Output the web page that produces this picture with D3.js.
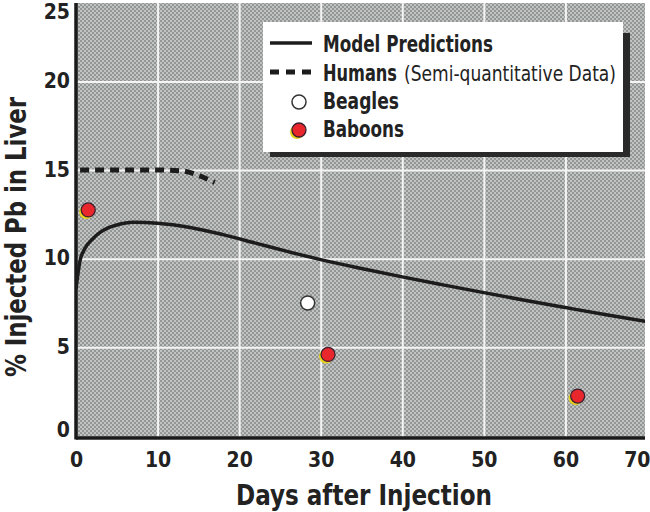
<!DOCTYPE html>
<html>
<head>
<meta charset="utf-8">
<script src="https://cdn.jsdelivr.net/npm/d3@7"></script>
<style>
  body { margin: 0; background: #fff; }
  svg { display: block; }
  text { font-family: "Liberation Sans Narrow", "DejaVu Sans Condensed", "Arial Narrow", sans-serif; fill: #222; }
</style>
</head>
<body>
<svg id="chart" width="650" height="512"></svg>
<script>
// model curve (days, % injected Pb in liver)
const modelDays = [0, 0.5, 1, 2, 3, 4, 5, 7, 10, 14, 18, 22, 26, 30, 35, 40, 45, 50, 55, 60, 65, 70];
const modelValues = [8.3, 9.9, 10.5, 11.1, 11.5, 11.75, 11.9, 12.05, 12.0, 11.76, 11.36, 10.88, 10.4, 9.95, 9.45, 8.975, 8.525, 8.085, 7.66, 7.245, 6.835, 6.45];

// humans, semi-quantitative
const humanDays = [0.5, 5, 10, 13, 15, 17];
const humanValues = [15, 15, 15, 14.95, 14.7, 14.3];

const beagleDays = [28.4];
const beagleValues = [7.5];

const baboonDays = [1.5, 30.9, 61.5];
const baboonValues = [12.75, 4.6, 2.25];

const xTicks = [0, 10, 20, 30, 40, 50, 60, 70];
const yTicks = [0, 5, 10, 15, 20, 25];

const svg = d3.select('#chart');

const x = d3.scaleLinear().domain([0, 70]).range([76, 647]);
const y = d3.scaleLinear().domain([0, 25]).range([436, -7.25]);

const plotTop = 3, plotBottom = 438, plotLeft = 76, plotRight = 645;

// squeeze a text to a given width
function fit(sel, w) {
  sel.attr('textLength', w).attr('lengthAdjust', 'spacingAndGlyphs');
}

const defs = svg.append('defs');
const pat = defs.append('pattern')
    .attr('id', 'halftone')
    .attr('patternUnits', 'userSpaceOnUse')
    .attr('width', 4)
    .attr('height', 4);
pat.append('rect').attr('width', 4).attr('height', 4).attr('fill', '#c0c3c1');
pat.append('rect').attr('width', 2).attr('height', 2).attr('fill', '#929694');
pat.append('rect').attr('x', 2).attr('y', 2).attr('width', 2).attr('height', 2).attr('fill', '#929694');

defs.append('clipPath').attr('id', 'plotclip')
  .append('rect')
    .attr('x', plotLeft).attr('y', plotTop)
    .attr('width', plotRight - plotLeft).attr('height', plotBottom - plotTop);

svg.append('rect')
    .attr('x', plotLeft).attr('y', plotTop)
    .attr('width', plotRight - plotLeft).attr('height', plotBottom - plotTop)
    .attr('fill', 'url(#halftone)');

// grid
const gridX = svg.append('g')
    .attr('transform', `translate(0,${plotBottom})`)
    .call(d3.axisBottom(x).tickValues([10, 20, 30, 40, 50, 60]).tickSize(-(plotBottom - plotTop)).tickFormat(''));
gridX.select('.domain').remove();
gridX.selectAll('line').attr('stroke', '#f4f4f4').attr('stroke-width', 2);

const gridY = svg.append('g')
    .attr('transform', `translate(${plotLeft},0)`)
    .call(d3.axisLeft(y).tickValues([5, 10, 15, 20]).tickSize(-(plotRight - plotLeft)).tickFormat(''));
gridY.select('.domain').remove();
gridY.selectAll('line').attr('stroke', '#f4f4f4').attr('stroke-width', 2);

// tick labels
const xAxis = svg.append('g')
    .attr('transform', `translate(0,${plotBottom})`)
    .call(d3.axisBottom(x).tickValues(xTicks).tickSize(0).tickPadding(14));
xAxis.select('.domain').remove();
xAxis.selectAll('text')
    .style('font-size', '21px').style('font-weight', 'bold').attr('fill', '#222')
    .attr('text-anchor', d => d === 70 ? 'end' : 'middle')
    .attr('dx', d => d === 70 ? 3 : 0);

const yAxis = svg.append('g')
    .attr('transform', `translate(${plotLeft - 6},0)`)
    .call(d3.axisLeft(y).tickValues(yTicks).tickSize(0).tickPadding(0));
yAxis.select('.domain').remove();
yAxis.selectAll('.tick')
    .attr('transform', d => `translate(0,${Math.min(Math.max(y(d), 12), 430)})`);
yAxis.selectAll('text')
    .style('font-size', '21px').style('font-weight', 'bold').attr('fill', '#222');

// axis lines
svg.append('line')
    .attr('x1', plotLeft).attr('x2', plotLeft).attr('y1', plotTop).attr('y2', plotBottom + 1.5)
    .attr('stroke', '#1a1a1a').attr('stroke-width', 3.5);
svg.append('line')
    .attr('x1', plotLeft).attr('x2', plotRight).attr('y1', plotBottom).attr('y2', plotBottom)
    .attr('stroke', '#1a1a1a').attr('stroke-width', 3.5);

const plot = svg.append('g').attr('clip-path', 'url(#plotclip)');

const line = d3.line()
    .x(d => x(d[0]))
    .y(d => y(d[1]))
    .curve(d3.curveMonotoneX);

plot.append('path')
    .datum(d3.zip(modelDays, modelValues))
    .attr('d', line)
    .attr('fill', 'none')
    .attr('stroke', '#1c1c1c')
    .attr('stroke-width', 3.5);

plot.append('path')
    .datum(d3.zip(humanDays, humanValues))
    .attr('d', line)
    .attr('fill', 'none')
    .attr('stroke', '#1c1c1c')
    .attr('stroke-width', 5)
    .attr('stroke-dasharray', '9,6');

function marker(g, cx, cy, kind) {
  if (kind === 'baboon') {
    g.append('circle').attr('cx', cx - 2).attr('cy', cy + 2).attr('r', 7).attr('fill', '#e8d21a');
    g.append('circle').attr('cx', cx).attr('cy', cy).attr('r', 7)
        .attr('fill', '#e8262c').attr('stroke', '#3a2030').attr('stroke-width', 1.3);
  } else {
    g.append('circle').attr('cx', cx).attr('cy', cy).attr('r', 7)
        .attr('fill', '#ffffff').attr('stroke', '#333').attr('stroke-width', 1.5);
  }
}

d3.zip(beagleDays, beagleValues).forEach(d => marker(plot, x(d[0]), y(d[1]), 'beagle'));
d3.zip(baboonDays, baboonValues).forEach(d => marker(plot, x(d[0]), y(d[1]), 'baboon'));

// legend
const lg = svg.append('g');
lg.append('rect').attr('x', 270).attr('y', 33).attr('width', 360).attr('height', 124).attr('fill', '#2a2a2a');
lg.append('rect').attr('x', 263).attr('y', 22).attr('width', 360).attr('height', 130).attr('fill', '#ffffff');

lg.append('line').attr('x1', 270).attr('x2', 312).attr('y1', 43).attr('y2', 43)
    .attr('stroke', '#1c1c1c').attr('stroke-width', 3.5);
lg.append('line').attr('x1', 270).attr('x2', 312).attr('y1', 72).attr('y2', 72)
    .attr('stroke', '#1c1c1c').attr('stroke-width', 5).attr('stroke-dasharray', '9,7');
marker(lg, 299, 102, 'beagle');
marker(lg, 299, 130, 'baboon');

const legendRows = [
  { text: 'Model Predictions', y: 52, w: 170 },
  { text: 'Humans', y: 81, w: 74 },
  { text: 'Beagles', y: 109, w: 76 },
  { text: 'Baboons', y: 137, w: 81 }
];
legendRows.forEach(r => {
  lg.append('text').attr('x', 323).attr('y', r.y)
      .style('font-size', '23px').style('font-weight', 'bold')
      .text(r.text).call(fit, r.w);
});
lg.append('text').attr('x', 404).attr('y', 81)
    .style('font-size', '22px')
    .text('(Semi-quantitative Data)').call(fit, 212);

// axis titles
svg.append('text')
    .attr('x', 364).attr('y', 505)
    .attr('text-anchor', 'middle')
    .style('font-size', '29px').style('font-weight', 'bold')
    .text('Days after Injection').call(fit, 256);

svg.append('text')
    .attr('transform', 'translate(26,237) rotate(-90)')
    .attr('text-anchor', 'middle')
    .style('font-size', '29px').style('font-weight', 'bold')
    .text('% Injected Pb in Liver').call(fit, 280);
</script>
</body>
</html>
